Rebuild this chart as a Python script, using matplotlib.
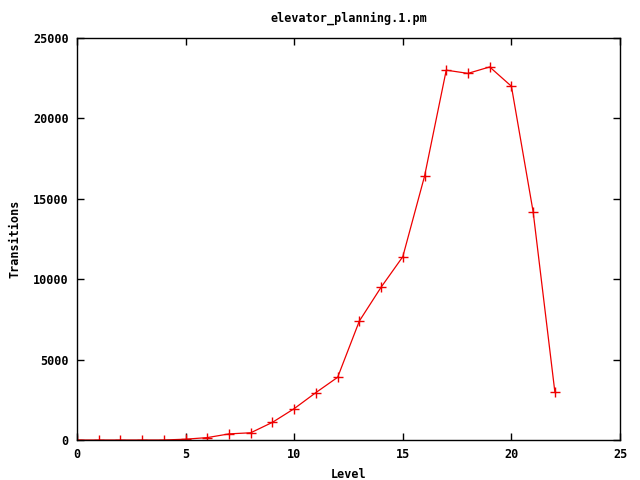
import matplotlib
matplotlib.use("Agg")
import matplotlib.pyplot as plt

level = [0, 1, 2, 3, 4, 5, 6, 7, 8, 9, 10, 11, 12, 13, 14, 15, 16, 17, 18, 19, 20, 21, 22]
transitions = [0, 0, 0, 0, 0, 50, 150, 380, 450, 1100, 1950, 2950, 3900, 7400,
               9500, 11400, 16400, 23000, 22800, 23200, 22000, 14200, 3000]
xticks = [0, 5, 10, 15, 20, 25]
yticks = [0, 5000, 10000, 15000, 20000, 25000]

plt.rcParams['font.family'] = ['DejaVu Sans Mono']
plt.rcParams['font.weight'] = 'bold'
plt.rcParams['font.size'] = 8.5

fig = plt.figure(figsize=(6.4, 4.8), dpi=100)
ax = fig.add_axes([77/640, 40/480, 543/640, 402/480])

ax.plot(level, transitions, color='#ee0000', linewidth=0.9, marker='+',
        markersize=6.5, markeredgewidth=1.0)

ax.set_xlim(0, 25)
ax.set_ylim(0, 25000)
ax.set_xticks(xticks)
ax.set_yticks(yticks)
ax.tick_params(direction='in', top=True, right=True, length=5, width=1, pad=6)
for s in ax.spines.values():
    s.set_linewidth(1)

ax.set_title("elevator_planning.1.pm", fontsize=8.5, fontweight='bold', pad=12)
ax.set_xlabel("Level", fontweight='bold', labelpad=5)
ax.set_ylabel("Transitions", fontweight='bold', labelpad=8)

fig.savefig("out.png", dpi=100)
